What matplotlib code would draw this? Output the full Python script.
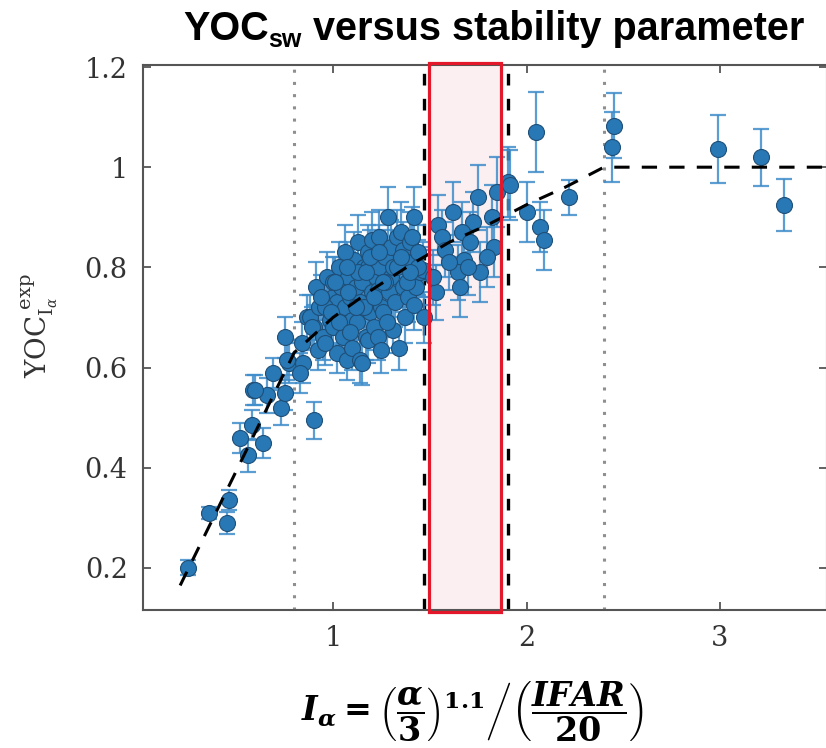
import matplotlib
matplotlib.use("Agg")
import matplotlib.pyplot as plt
from matplotlib.patches import Rectangle

# stability parameter I_alpha, measured YOC and its error
x_pts = [0.25, 0.36, 0.46, 0.45, 0.52, 0.56, 0.58, 0.64, 0.587, 0.66,
         0.69, 0.73, 0.75, 0.77, 0.75, 0.90, 0.845, 0.90, 0.76, 0.83,
         0.84, 0.865, 0.595,
         0.88, 0.89, 0.91, 0.92, 0.93, 0.95, 0.97, 0.985, 1.00, 1.00,
         1.02, 1.02, 1.03, 1.04, 1.05, 1.05, 1.06, 1.07, 1.08, 1.09,
         1.10, 1.10, 1.11, 1.12, 1.125, 1.13, 1.14, 1.14, 1.15, 1.15,
         1.16, 1.17, 1.18, 1.18, 1.18, 1.19, 1.20, 1.20, 1.21, 1.22,
         1.23, 1.23, 1.24, 1.24, 1.25, 1.25, 1.26, 1.27, 1.285, 1.29,
         1.30, 1.30, 1.31, 1.31, 1.32, 1.33, 1.34, 1.35, 1.36, 1.36,
         1.37, 1.38, 1.39, 1.40, 1.41, 1.415, 1.42, 1.42, 1.43, 1.44,
         1.45, 1.465, 1.47, 1.00, 1.13, 1.27, 1.06, 1.16, 0.96,
         0.94, 0.99, 1.03, 1.08, 1.12, 1.17, 1.21, 1.26, 1.33, 1.38,
         1.44, 0.96, 1.01, 1.07, 1.19, 1.28, 1.35, 1.40, 1.09, 1.24,
         1.545, 1.62, 1.75, 1.85, 1.905, 1.725, 1.82, 1.565, 1.665, 1.58,
         1.71, 1.83, 1.675, 1.795, 1.645, 1.76, 1.53, 1.655, 1.515, 1.60,
         1.70, 1.915,
         2.00, 2.07, 2.09, 2.22, 2.05, 2.45, 2.44, 2.99, 3.21, 3.33]
y_pts = [0.20, 0.31, 0.335, 0.29, 0.46, 0.425, 0.485, 0.45, 0.555, 0.545,
         0.59, 0.52, 0.55, 0.61, 0.66, 0.495, 0.61, 0.68, 0.615, 0.59,
         0.65, 0.70, 0.555,
         0.70, 0.68, 0.76, 0.635, 0.72, 0.66, 0.78, 0.695, 0.74, 0.68,
         0.73, 0.63, 0.80, 0.76, 0.69, 0.66, 0.72, 0.615, 0.78, 0.74,
         0.64, 0.695, 0.815, 0.76, 0.69, 0.85, 0.73, 0.615, 0.77, 0.61,
         0.80, 0.66, 0.83, 0.80, 0.655, 0.71, 0.855, 0.75, 0.68, 0.78,
         0.755, 0.66, 0.86, 0.80, 0.635, 0.72, 0.71, 0.82, 0.90, 0.75,
         0.84, 0.78, 0.80, 0.675, 0.73, 0.86, 0.64, 0.87, 0.835, 0.76,
         0.70, 0.81, 0.74, 0.85, 0.86, 0.81, 0.90, 0.725, 0.76, 0.83,
         0.79, 0.795, 0.70, 0.77, 0.79, 0.77, 0.83, 0.72, 0.72,
         0.74, 0.71, 0.69, 0.75, 0.72, 0.79, 0.74, 0.77, 0.80, 0.77,
         0.80, 0.65, 0.77, 0.80, 0.82, 0.69, 0.82, 0.79, 0.67, 0.83,
         0.885, 0.91, 0.94, 0.95, 0.97, 0.89, 0.90, 0.86, 0.87, 0.835,
         0.85, 0.84, 0.815, 0.82, 0.79, 0.79, 0.75, 0.76, 0.78, 0.81,
         0.80, 0.965,
         0.91, 0.88, 0.855, 0.94, 1.07, 1.083, 1.04, 1.037, 1.02, 0.925]
y_err = [0.015, 0.012, 0.02, 0.022, 0.03, 0.033, 0.03, 0.03, 0.03, 0.035,
         0.03, 0.035, 0.035, 0.04, 0.04, 0.037, 0.04, 0.045, 0.04, 0.04,
         0.04, 0.045, 0.03,
         0.045, 0.04, 0.05, 0.04, 0.045, 0.045, 0.05, 0.045, 0.05, 0.045,
         0.05, 0.04, 0.05, 0.05, 0.045, 0.045, 0.05, 0.04, 0.05, 0.05,
         0.045, 0.05, 0.055, 0.05, 0.045, 0.055, 0.05, 0.045, 0.05, 0.045,
         0.055, 0.045, 0.055, 0.05, 0.045, 0.05, 0.055, 0.05, 0.045, 0.05,
         0.05, 0.045, 0.055, 0.05, 0.045, 0.05, 0.05, 0.055, 0.06, 0.05,
         0.055, 0.05, 0.05, 0.045, 0.05, 0.055, 0.045, 0.06, 0.055, 0.05,
         0.05, 0.055, 0.05, 0.06, 0.06, 0.055, 0.06, 0.05, 0.05, 0.055,
         0.05, 0.055, 0.05, 0.05, 0.05, 0.05, 0.055, 0.05, 0.05,
         0.045, 0.045, 0.045, 0.05, 0.05, 0.05, 0.05, 0.05, 0.055, 0.05,
         0.055, 0.045, 0.05, 0.05, 0.055, 0.05, 0.055, 0.05, 0.045, 0.055,
         0.06, 0.06, 0.065, 0.07, 0.07, 0.06, 0.065, 0.055, 0.06, 0.055,
         0.06, 0.06, 0.055, 0.06, 0.055, 0.06, 0.055, 0.06, 0.055, 0.055,
         0.055, 0.07,
         0.06, 0.05, 0.06, 0.035, 0.08, 0.065, 0.07, 0.068, 0.057, 0.052]

# fitted trend
fit_x = [0.21, 0.8, 1.0, 1.2, 1.4, 1.6, 1.8, 2.0, 2.2, 2.4, 3.6]
fit_y = [0.165, 0.63, 0.70, 0.755, 0.805, 0.85, 0.885, 0.925, 0.96, 1.0, 1.0]

dotted_x = [0.8, 2.4]
dashed_x = [1.47, 1.905]
box_x = [1.495, 1.866]

plt.rcParams['mathtext.fontset'] = 'custom'
plt.rcParams['mathtext.it'] = 'DejaVu Serif:italic:bold'
plt.rcParams['mathtext.rm'] = 'DejaVu Serif:bold'
plt.rcParams['mathtext.bf'] = 'DejaVu Serif:bold'

fig = plt.figure(figsize=(8.26, 7.48), dpi=100)
ax = fig.add_axes([143 / 826, 138 / 748, 684 / 826, 545 / 748])

ax.errorbar(x_pts, y_pts, yerr=y_err, fmt='none', ecolor='#3f8dca',
            elinewidth=1.6, capsize=6, capthick=1.6, alpha=0.85, zorder=3)
ax.plot(x_pts, y_pts, 'o', ms=11.5, mfc='#2778b5', mec='#1f4f78',
        mew=0.8, zorder=4)

ax.plot(fit_x, fit_y, color='black', lw=2.2, dashes=(5, 4), zorder=5)

for xv in dotted_x:
    ax.axvline(xv, color='#8f8f8f', lw=2.2, dashes=(1, 3), zorder=2)
for xv in dashed_x:
    ax.axvline(xv, color='black', lw=2.4, dashes=(3.5, 4.0), zorder=2)

ax.add_patch(Rectangle((box_x[0], 0.112), box_x[1] - box_x[0], 1.096,
                       facecolor='#fbeff1', edgecolor='none', zorder=1,
                       clip_on=False))
ax.add_patch(Rectangle((box_x[0], 0.112), box_x[1] - box_x[0], 1.096,
                       facecolor='none', edgecolor='#e3192b', lw=2.3,
                       zorder=6, clip_on=False))

ax.set_xlim(0.018, 3.553)
ax.set_ylim(0.116, 1.204)
ax.set_xticks([1, 2, 3])
ax.set_xticklabels(['1', '2', '3'])
ax.set_yticks([0.2, 0.4, 0.6, 0.8, 1.0, 1.2])
ax.set_yticklabels(['0.2', '0.4', '0.6', '0.8', '1', '1.2'])
ax.tick_params(direction='in', top=True, right=True, length=6, width=1.3,
               color='#555555', labelcolor='#333333', labelsize=19.5, pad=11)
for lab in ax.get_xticklabels() + ax.get_yticklabels():
    lab.set_family('DejaVu Serif')
for sp in ax.spines.values():
    sp.set_color('#555555')
    sp.set_linewidth(1.5)

fig.text(40 / 826, 1 - 326 / 748,
         r'$\mathrm{YOC}_{\mathrm{I}_{\alpha}}^{\ \mathrm{exp}}$',
         rotation=90, ha='center', va='center', fontsize=20,
         color='#333333', math_fontfamily='dejavuserif')

fig.text(472 / 826, 1 - 712 / 748,
         r'$I_{\alpha} = \left(\dfrac{\alpha}{3}\right)^{1.1}\left/\left(\dfrac{IFAR}{20}\right)\right.$',
         ha='center', va='center', fontsize=24, color='black')

# title with a subscript, built from pieces
renderer = fig.canvas.get_renderer()
tfont = dict(family='Liberation Sans', weight='bold', color='black')
x0 = 183 / 826
yb = 1 - 40 / 748
t1 = fig.text(x0, yb, 'YOC', fontsize=28.5, va='baseline', ha='left', **tfont)
bb = t1.get_window_extent(renderer)
t2 = fig.text(bb.x1 / fig.bbox.width, yb - 7 / 748, 'sw', fontsize=18,
              va='baseline', ha='left', **tfont)
bb = t2.get_window_extent(renderer)
fig.text(bb.x1 / fig.bbox.width, yb, ' versus stability parameter',
         fontsize=28.5, va='baseline', ha='left', **tfont)

fig.savefig('out.png', dpi=100)
